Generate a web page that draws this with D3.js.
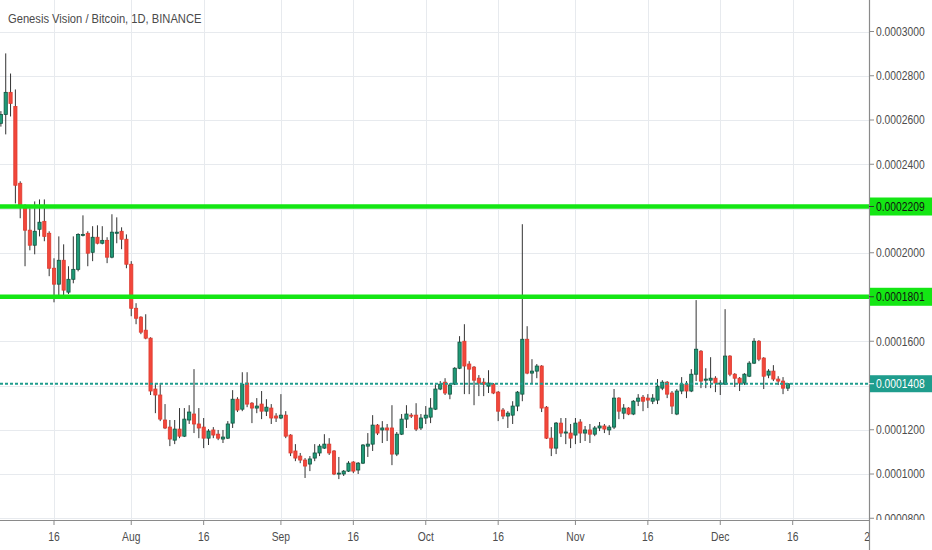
<!DOCTYPE html>
<html lang="en">
<head>
<meta charset="UTF-8">
<title>Genesis Vision / Bitcoin, 1D, BINANCE</title>
<script src="https://cdn.jsdelivr.net/npm/d3@7"></script>
<style>
  body { margin: 0; background: #fff; }
  svg { display: block; }
  text { font-family: "Liberation Sans", Arial, sans-serif; fill: #4d4d4d; }
</style>
</head>
<body>
<svg width="932" height="550"></svg>
<script>
// Daily candles from 2019-07-05 on.
// Prices in units of 0.0000001 BTC (the last decimal of the price scale).
const firstDay = "2019-07-05";

const opens = [
  2585,2625,2725,2661,2314,2201,2102,2034,2106,2142,2088,1930,1858,1966,1822,1880,1925,2079,2088,2002,2070,2043,2056,1980,2088,2097,2061,
  1948,1749,1709,1650,1614,1384,1357,1244,1212,1153,1203,1171,1244,1271,1226,1212,1162,1199,1180,1158,1162,1230,1338,1293,1411,1320,1298,1316,1284,1298,1262,
  1253,1266,1176,1104,1081,1063,1045,1072,1095,1117,1135,1104,1000,1000,1013,1054,1018,1049,1126,1135,1221,1199,1208,1208,1090,1180,1248,1266,1266,1208,
  1253,1257,1293,1384,1415,1361,1406,1478,1600,1497,1483,1433,1415,1397,1406,1370,1289,1262,1266,1307,1361,1609,1456,1465,1488,1302,1162,1117,1230,1185,1185,
  1176,1235,1185,1199,1180,1208,1217,1199,1212,1343,1275,1298,1271,1329,1347,1343,1329,1334,1388,1415,1366,1271,1375,1406,1375,1451,1555,1424,1424,1433,
  1406,1406,1533,1451,1433,1411,1442,1501,1600,1524,1447,1465,1429,1420,1388
];
const highs = [
  2640,2901,2810,2738,2323,2219,2201,2232,2241,2241,2097,1975,2074,2038,1939,2074,2088,2169,2097,2120,2124,2120,2070,2174,2160,2115,2083,
  1962,1772,1713,1722,1618,1411,1411,1316,1244,1244,1298,1298,1311,1474,1298,1253,1203,1212,1199,1199,1239,1379,1347,1460,1460,1325,1343,1375,1338,1316,1275,
  1361,1284,1180,1135,1095,1072,1081,1135,1135,1180,1162,1108,1077,1018,1058,1058,1054,1135,1185,1266,1226,1239,1226,1311,1190,1271,1311,1275,1320,1271,
  1307,1343,1406,1420,1433,1411,1483,1623,1677,1510,1488,1447,1433,1469,1411,1375,1298,1284,1329,1375,2129,1668,1519,1497,1492,1307,1212,1235,1253,1253,1226,
  1253,1248,1217,1226,1217,1235,1226,1221,1384,1347,1316,1302,1334,1361,1357,1361,1361,1429,1424,1420,1375,1384,1438,1420,1474,1786,1560,1478,1528,1442,
  1424,1745,1537,1456,1438,1456,1510,1614,1605,1528,1474,1492,1442,1438,1411
];
const lows = [
  2570,2535,2616,2223,2156,1939,2011,1993,2074,2052,1894,1776,1794,1808,1813,1862,1916,2074,1939,1962,2038,2038,1953,1975,2043,2016,1930,
  1713,1677,1632,1609,1357,1275,1239,1203,1126,1135,1162,1167,1226,1185,1162,1117,1131,1162,1153,1140,1158,1208,1280,1284,1302,1230,1275,1248,1262,1226,1235,
  1248,1162,1081,1058,1049,982,1013,1058,1081,1113,1086,995,977,991,1009,1004,1000,1045,1077,1104,1176,1140,1149,1040,1081,1176,1208,1253,1194,1199,
  1226,1230,1289,1379,1357,1338,1402,1474,1361,1361,1311,1352,1352,1366,1361,1239,1248,1208,1226,1284,1329,1451,1411,1433,1280,1158,1081,1090,1167,1135,1117,
  1135,1140,1149,1140,1171,1194,1185,1176,1203,1248,1248,1266,1266,1307,1284,1298,1316,1316,1379,1343,1271,1266,1361,1343,1370,1420,1388,1388,1388,1370,
  1357,1402,1442,1393,1375,1402,1438,1497,1510,1384,1433,1420,1402,1361,1375
];
const closes = [
  2625,2725,2675,2305,2210,2102,2034,2097,2138,2074,1930,1858,1966,1831,1880,1925,2083,2083,1998,2070,2043,2056,1980,2093,2093,2061,1948,
  1749,1704,1641,1614,1375,1357,1248,1208,1158,1203,1171,1248,1280,1226,1208,1162,1194,1176,1162,1167,1226,1338,1289,1406,1316,1298,1307,1284,1302,1253,1253,
  1266,1171,1095,1072,1063,1036,1068,1095,1126,1135,1095,1000,1004,1013,1049,1013,1049,1131,1135,1221,1185,1208,1199,1090,1180,1248,1271,1262,1203,1253,
  1266,1298,1384,1406,1366,1402,1478,1596,1488,1474,1424,1411,1406,1411,1366,1284,1262,1275,1307,1370,1609,1456,1465,1488,1298,1162,1117,1230,1185,1190,1162,
  1230,1185,1199,1180,1208,1217,1203,1212,1343,1284,1298,1271,1329,1343,1329,1334,1343,1397,1415,1361,1307,1375,1406,1375,1451,1564,1420,1429,1433,1411,
  1411,1533,1451,1433,1411,1451,1501,1600,1519,1442,1465,1429,1420,1388,1408
];

const priceTicks = [800, 1000, 1200, 1400, 1600, 1800, 2000, 2200, 2400, 2600, 2800, 3000];
const timeTicks = ["2019-07-16","2019-08-01","2019-08-16","2019-09-01","2019-09-16","2019-10-01",
                   "2019-10-16","2019-11-01","2019-11-16","2019-12-01","2019-12-16","2020-01-01"];
const timeLabels = ["16","Aug","16","Sep","16","Oct","16","Nov","16","Dec","16","20"];

const levels = [2209, 1801];   // horizontal lines drawn on the chart
const lastPrice = 1408;
const title = "Genesis Vision / Bitcoin, 1D, BINANCE";

// ---- layout ----
const width = 932, height = 550;
const plotW = 869, plotH = 520;
const squeeze = 0.86;   // the screenshot's text is narrow
const upFill = "#1f9a77", upStroke = "#11533f";
const downFill = "#f2473b", downStroke = "#dd3a2f";
const wickColor = "#333";
const levelColor = "#14e614";
const lastColor = "#1f9d8d";

const parse = d3.utcParse("%Y-%m-%d");
const fmt = v => (v * 1e-7).toFixed(7);

const x = d3.scaleUtc()
    .domain([parse("2019-07-16"), parse("2019-12-16")])
    .range([54, 792.7]);
const y = d3.scaleLinear()
    .domain([800, 3000])
    .range([518.25, 31.5]);

const start = parse(firstDay);
const candles = opens.map((o, i) => ({
    day: d3.utcDay.offset(start, i),
    o, h: highs[i], l: lows[i], c: closes[i]
}));

const svg = d3.select("svg");
const defs = svg.append("defs");
defs.append("clipPath").attr("id", "plot")
    .append("rect").attr("width", plotW).attr("height", plotH);
defs.append("clipPath").attr("id", "priceAxis")
    .append("rect").attr("x", plotW).attr("width", width - plotW).attr("height", plotH);
defs.append("clipPath").attr("id", "timeAxis")
    .append("rect").attr("y", plotH).attr("width", plotW).attr("height", height - plotH);

svg.append("rect").attr("width", width).attr("height", height).attr("fill", "#fff");

function squeezedText(sel, tx, ty, str, anchor) {
    return sel.append("text")
        .attr("transform", `translate(${tx},${ty}) scale(${squeeze},1)`)
        .attr("text-anchor", anchor || "start")
        .text(str);
}

// grid
const grid = svg.append("g").attr("clip-path", "url(#plot)")
    .attr("stroke", "#e7eaee").attr("stroke-width", 1);
grid.selectAll("line.v").data(timeTicks).enter().append("line")
    .attr("x1", d => Math.round(x(parse(d))) + 0.5)
    .attr("x2", d => Math.round(x(parse(d))) + 0.5)
    .attr("y1", 0).attr("y2", plotH);
grid.selectAll("line.h").data(priceTicks).enter().append("line")
    .attr("x1", 0).attr("x2", plotW)
    .attr("y1", d => Math.round(y(d)) + 0.5)
    .attr("y2", d => Math.round(y(d)) + 0.5);

// candles
const plot = svg.append("g").attr("clip-path", "url(#plot)");
const candle = plot.selectAll("g.candle").data(candles).enter().append("g");
candle.append("line")
    .attr("x1", d => x(d.day)).attr("x2", d => x(d.day))
    .attr("y1", d => y(d.h)).attr("y2", d => y(d.l))
    .attr("stroke", wickColor).attr("stroke-width", 1);
candle.append("rect")
    .attr("x", d => x(d.day) - 1.6)
    .attr("width", 3.2)
    .attr("y", d => y(Math.max(d.o, d.c)))
    .attr("height", d => Math.max(1, Math.abs(y(d.o) - y(d.c))))
    .attr("fill", d => d.c >= d.o ? upFill : downFill)
    .attr("stroke", d => d.c >= d.o ? upStroke : downStroke)
    .attr("stroke-width", 0.8);

// drawn levels and last price line
plot.selectAll("line.level").data(levels).enter().append("line")
    .attr("x1", 0).attr("x2", plotW)
    .attr("y1", d => y(d)).attr("y2", d => y(d))
    .attr("stroke", levelColor).attr("stroke-width", 4.5);
plot.append("line")
    .attr("x1", 0).attr("x2", plotW)
    .attr("y1", y(lastPrice)).attr("y2", y(lastPrice))
    .attr("stroke", lastColor).attr("stroke-width", 2)
    .attr("stroke-dasharray", "3,2");

// axes lines
svg.append("line")
    .attr("x1", plotW + 0.5).attr("x2", plotW + 0.5)
    .attr("y1", 0).attr("y2", height)
    .attr("stroke", "#8a8a8a").attr("stroke-width", 1.2);
svg.append("line")
    .attr("x1", 0).attr("x2", plotW + 0.5)
    .attr("y1", plotH + 0.5).attr("y2", plotH + 0.5)
    .attr("stroke", "#8a8a8a").attr("stroke-width", 1.2);

// price axis: regular ticks, hidden where a price label box sits
const boxed = levels.concat([lastPrice]);
const pa = svg.append("g").attr("clip-path", "url(#priceAxis)")
    .style("font-size", "12px");
priceTicks
    .filter(t => boxed.every(b => Math.abs(y(t) - y(b)) > 12))
    .forEach(t => {
        pa.append("line")
            .attr("x1", plotW).attr("x2", plotW + 5)
            .attr("y1", y(t)).attr("y2", y(t))
            .attr("stroke", "#8a8a8a");
        squeezedText(pa, plotW + 7, y(t) + 4.3, fmt(t));
    });
levels.forEach(v => {
    pa.append("rect")
        .attr("x", plotW + 1).attr("width", width - plotW - 1)
        .attr("y", y(v) - 9).attr("height", 18)
        .attr("fill", levelColor);
    pa.append("line")
        .attr("x1", plotW).attr("x2", plotW + 5)
        .attr("y1", y(v)).attr("y2", y(v))
        .attr("stroke", "#333");
    squeezedText(pa, plotW + 7, y(v) + 4.3, fmt(v)).style("fill", "#111");
});
pa.append("rect")
    .attr("x", plotW + 1).attr("width", width - plotW - 1)
    .attr("y", y(lastPrice) - 8.5).attr("height", 17)
    .attr("fill", lastColor);
pa.append("line")
    .attr("x1", plotW).attr("x2", plotW + 5)
    .attr("y1", y(lastPrice)).attr("y2", y(lastPrice))
    .attr("stroke", "#fff");
squeezedText(pa, plotW + 7, y(lastPrice) + 4.3, fmt(lastPrice)).style("fill", "#fff");

// time axis
const ta = svg.append("g").attr("clip-path", "url(#timeAxis)")
    .style("font-size", "12px");
timeTicks.forEach((t, i) => {
    const tx = x(parse(t));
    ta.append("line")
        .attr("x1", tx).attr("x2", tx)
        .attr("y1", plotH).attr("y2", plotH + 5)
        .attr("stroke", "#8a8a8a");
    squeezedText(ta, tx, 541, timeLabels[i], "middle");
});

// title
squeezedText(svg, 8, 22.5, title).style("font-size", "13px").style("fill", "#4a4a4a");
</script>
</body>
</html>
